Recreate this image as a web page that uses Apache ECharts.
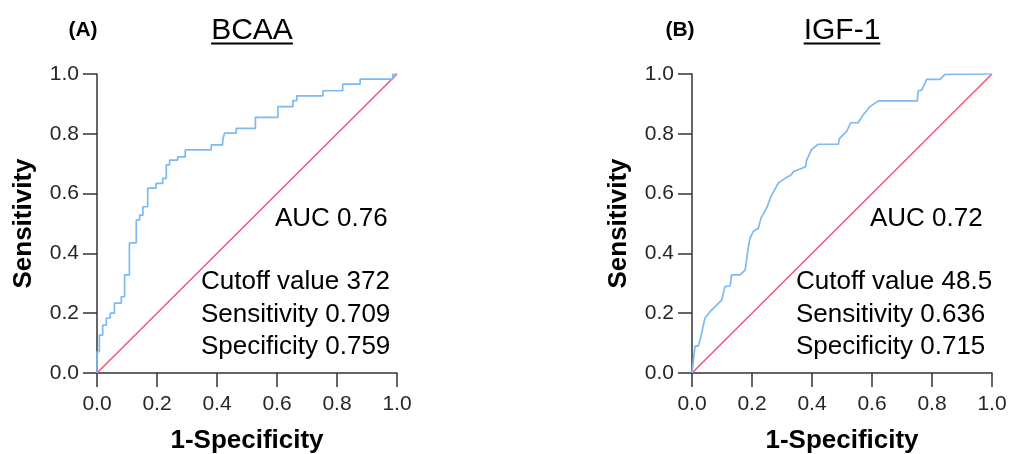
<!DOCTYPE html>
<html>
<head>
<meta charset="utf-8">
<script src="https://cdn.jsdelivr.net/npm/echarts@6/dist/echarts.min.js"></script>
<style>
html,body{margin:0;padding:0;background:#fff;}
#chart{width:1009px;height:454px;}
</style>
</head>
<body>
<div id="chart"></div>
<script>
// ---- data ----
var tickValues = [0, 0.2, 0.4, 0.6, 0.8, 1.0];
var panelLabels = ['(A)', '(B)'];
var panelTitles = ['BCAA', 'IGF-1'];
var xAxisTitle = '1-Specificity';
var yAxisTitle = 'Sensitivity';

var bcaaFpr = [0, 0, 0.008, 0.019, 0.031, 0.044, 0.058, 0.081, 0.092, 0.108, 0.131, 0.142, 0.153, 0.169, 0.197, 0.219, 0.231, 0.242, 0.269, 0.294, 0.381, 0.419, 0.425, 0.464, 0.528, 0.603, 0.653, 0.666, 0.753, 0.819, 0.877, 0.986, 1];
var bcaaTpr = [0, 0.071, 0.127, 0.16, 0.184, 0.2, 0.234, 0.255, 0.328, 0.435, 0.512, 0.528, 0.556, 0.618, 0.634, 0.651, 0.696, 0.712, 0.723, 0.746, 0.763, 0.779, 0.802, 0.818, 0.855, 0.891, 0.911, 0.927, 0.944, 0.966, 0.983, 1.0, 1];

var igfFpr = [0, 0.01, 0.021, 0.027, 0.043, 0.06, 0.082, 0.099, 0.11, 0.127, 0.132, 0.16, 0.177, 0.188, 0.193, 0.204, 0.221, 0.23, 0.249, 0.263, 0.288, 0.31, 0.33, 0.338, 0.379, 0.382, 0.399, 0.421, 0.488, 0.491, 0.516, 0.529, 0.554, 0.566, 0.593, 0.621, 0.751, 0.754, 0.766, 0.782, 0.827, 0.843, 1];
var igfTpr = [0, 0.09, 0.09, 0.11, 0.183, 0.205, 0.227, 0.244, 0.289, 0.291, 0.328, 0.328, 0.344, 0.422, 0.45, 0.473, 0.484, 0.518, 0.552, 0.59, 0.636, 0.651, 0.662, 0.673, 0.69, 0.712, 0.748, 0.765, 0.765, 0.783, 0.809, 0.837, 0.837, 0.857, 0.891, 0.91, 0.91, 0.944, 0.946, 0.982, 0.982, 0.999, 1];

var diagX = [0, 1];
var diagY = [0, 1];

var aucTexts = ['AUC 0.76', 'AUC 0.72'];
var statTexts = [
  ['Cutoff value 372', 'Sensitivity 0.709', 'Specificity 0.759'],
  ['Cutoff value 48.5', 'Sensitivity 0.636', 'Specificity 0.715']
];

// ---- helpers ----
function zip(a, b) { return a.map(function (v, i) { return [v, b[i]]; }); }
var FONT = '"Liberation Sans", Arial, Helvetica, sans-serif';
var curveColor = '#7db9f2';
var diagColor = '#ff4f74';
var axisColor = '#333333';
var textColor = '#262626';

var grids = [
  { left: 97, top: 74, width: 300, height: 299, containLabel: false, outerBoundsMode: 'none' },
  { left: 692, top: 74, width: 300, height: 299, containLabel: false, outerBoundsMode: 'none' }
];

function makeX(i) {
  return {
    type: 'value', gridIndex: i, min: 0, max: 1, interval: 0.2,
    splitLine: { show: false },
    axisLine: { show: true, onZero: false, lineStyle: { color: axisColor, width: 1.5 } },
    axisTick: { show: true, length: 14, lineStyle: { color: axisColor, width: 1.5 } },
    axisLabel: { color: textColor, fontSize: 21, fontFamily: FONT, margin: 21,
      formatter: function (v) { return v.toFixed(1); } },
    name: xAxisTitle, nameLocation: 'middle', nameGap: 55,
    nameTextStyle: { fontSize: 26, fontWeight: 'bold', color: '#000', fontFamily: FONT }
  };
}
function makeY(i) {
  return {
    type: 'value', gridIndex: i, min: 0, max: 1, interval: 0.2,
    splitLine: { show: false },
    axisLine: { show: true, onZero: false, lineStyle: { color: axisColor, width: 1.5 } },
    axisTick: { show: true, length: 14, lineStyle: { color: axisColor, width: 1.5 } },
    axisLabel: { color: textColor, fontSize: 21, fontFamily: FONT, margin: 18,
      formatter: function (v) { return v.toFixed(1); } },
    name: yAxisTitle, nameLocation: 'middle', nameGap: 60, nameRotate: 90,
    nameTextStyle: { fontSize: 26, fontWeight: 'bold', color: '#000', fontFamily: FONT }
  };
}

var chart = echarts.init(document.getElementById('chart'), null, { renderer: 'canvas' });

// measure title widths for underline
var ctx = document.createElement('canvas').getContext('2d');
ctx.font = '30px ' + FONT;

var graphics = [];
var titleCenters = [252, 842];
var labelCenters = [83, 680];
for (var p = 0; p < 2; p++) {
  var g = grids[p];
  graphics.push({ type: 'text', x: labelCenters[p], y: 30,
    style: { text: panelLabels[p], font: 'bold 21px ' + FONT, fill: '#000', textAlign: 'center', textVerticalAlign: 'middle' } });
  graphics.push({ type: 'text', x: titleCenters[p], y: 31,
    style: { text: panelTitles[p], font: '30px ' + FONT, fill: '#000', textAlign: 'center', textVerticalAlign: 'middle' } });
  var w = ctx.measureText(panelTitles[p]).width;
  graphics.push({ type: 'line', shape: { x1: titleCenters[p] - w / 2, y1: 43.5, x2: titleCenters[p] + w / 2, y2: 43.5 },
    style: { stroke: '#000', lineWidth: 2 } });
  graphics.push({ type: 'text', x: g.left + 178, y: 219,
    style: { text: aucTexts[p], font: '26px ' + FONT, fill: '#000', textAlign: 'left', textVerticalAlign: 'middle' } });
  for (var k = 0; k < 3; k++) {
    graphics.push({ type: 'text', x: g.left + 104, y: 282 + k * 32.5,
      style: { text: statTexts[p][k], font: '26px ' + FONT, fill: '#000', textAlign: 'left', textVerticalAlign: 'middle' } });
  }
}

var option = {
  backgroundColor: '#ffffff',
  animation: false,
  grid: grids,
  xAxis: [makeX(0), makeX(1)],
  yAxis: [makeY(0), makeY(1)],
  series: [
    { type: 'line', xAxisIndex: 0, yAxisIndex: 0, data: zip(diagX, diagY), symbol: 'none',
      lineStyle: { color: diagColor, width: 1.5 }, z: 2 },
    { type: 'line', xAxisIndex: 0, yAxisIndex: 0, data: zip(bcaaFpr, bcaaTpr), symbol: 'none', step: 'end',
      lineStyle: { color: curveColor, width: 1.7 }, z: 3 },
    { type: 'line', xAxisIndex: 1, yAxisIndex: 1, data: zip(diagX, diagY), symbol: 'none',
      lineStyle: { color: diagColor, width: 1.5 }, z: 2 },
    { type: 'line', xAxisIndex: 1, yAxisIndex: 1, data: zip(igfFpr, igfTpr), symbol: 'none',
      lineStyle: { color: curveColor, width: 1.7 }, z: 3 }
  ],
  graphic: graphics
};
chart.setOption(option);
</script>
</body>
</html>
